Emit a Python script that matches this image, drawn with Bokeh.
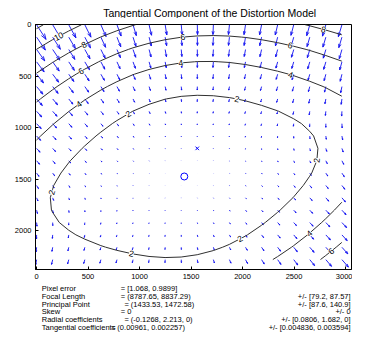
import numpy as np
import contourpy
from bokeh.plotting import figure
from bokeh.layouts import column
from bokeh.models import Range1d, FixedTicker
from bokeh.core.properties import value
from bokeh.embed import file_html
from bokeh.resources import INLINE

# ---- data ---------------------------------------------------------------
image_size = [3120, 2400]
pixel_error = [1.068, 0.9899]
focal_length = [8787.65, 8837.29]
focal_length_err = [79.2, 87.57]
principal_point = [1433.53, 1472.58]
principal_point_err = [87.6, 140.9]
skew = [0]
skew_err = [0]
radial_coeffs = [-0.1268, 2.213, 0]
radial_coeffs_err = [0.0806, 1.682, 0]
tangential_coeffs = [0.00961, 0.002257]
tangential_coeffs_err = [0.004836, 0.003594]

x_ticks = [0, 500, 1000, 1500, 2000, 2500, 3000]
y_ticks = [0, 500, 1000, 1500, 2000]
contour_levels = [2, 4, 6, 8, 10, 12]
grid_steps = 20

title_text = "Tangential Component of the Distortion Model"
row_names = ["Pixel error", "Focal Length", "Principal Point", "Skew",
             "Radial coefficients", "Tangential coefficients"]


def fmt(vals):
    return ", ".join(f"{v:.6g}" for v in vals)


row_values = [
    f"= [{fmt(pixel_error)}]",
    f"= ({fmt(focal_length)})",
    f"= ({fmt(principal_point)})",
    f"= {fmt(skew)}",
    f"= ({fmt(radial_coeffs)})",
    f"= ({fmt(tangential_coeffs)})",
]
row_errors = [
    "",
    f"+/- [{fmt(focal_length_err)}]",
    f"+/- [{fmt(principal_point_err)}]",
    f"+/- {fmt(skew_err)}",
    f"+/- [{fmt(radial_coeffs_err)}]",
    f"+/- [{fmt(tangential_coeffs_err)}]",
]

# ---- tangential distortion field (model with the parameters above) ------
nx, ny = image_size
fc = np.array(focal_length)
cc = np.array(principal_point)
p1, p2 = tangential_coeffs

gx = np.arange(0, nx - 1, nx / grid_steps)
gy = np.arange(0, ny - 1, ny / grid_steps)
MX, MY = np.meshgrid(gx, gy)
xn = (MX - cc[0]) / fc[0]
yn = (MY - cc[1]) / fc[1]
r2 = xn ** 2 + yn ** 2
DX = fc[0] * (2 * p1 * xn * yn + p2 * (r2 + 2 * xn ** 2))
DY = fc[1] * (p1 * (r2 + 2 * yn ** 2) + 2 * p2 * xn * yn)
DR = np.hypot(DX, DY)

# quiver autoscale (MATLAB style)
nn = np.sqrt(MX.size)
delx = (MX.max() - MX.min()) / nn
dely = (MY.max() - MY.min()) / nn
maxlen = np.sqrt((DX ** 2 + DY ** 2) / (delx ** 2 + dely ** 2)).max()
sc = 0.9 / maxlen
U = (DX * sc).ravel()
V = (DY * sc).ravel()
X0 = (MX + 1).ravel()
Y0 = (MY + 1).ravel()
TX = X0 + U
TY = Y0 + V
al = be = 0.33
H1X = TX - al * (U + be * V)
H1Y = TY - al * (V - be * U)
H2X = TX - al * (U - be * V)
H2Y = TY - al * (V + be * U)

# ---- layout (pixels) -----------------------------------------------------
W = 352
TOP_H = 18          # title strip
MAIN_H = 265        # plot strip
TXT_H = 332 - TOP_H - MAIN_H   # parameter strip
FL, FR, FT, FB = 35, 351, 24, 269   # frame edges on the page
ML, MR = FL, W - FR
MT, MB = FT - TOP_H, TOP_H + MAIN_H - FB
FW, FH = FR - FL, FB - FT
ppu = 0.103
xr0 = -10
xr1 = xr0 + FW / ppu
yr0 = -2
yr1 = yr0 + FH / ppu

# title strip
pt = figure(width=W, height=TOP_H, output_backend="svg", toolbar_location=None,
            x_range=Range1d(0, W), y_range=Range1d(TOP_H, 0),
            x_axis_type=None, y_axis_type=None, min_border=0)
pt.outline_line_color = None
pt.grid.visible = False
pt.text(x=[194], y=[12.5], text=[title_text], text_align="center",
        text_baseline="middle", text_font=value("Liberation Sans"),
        text_font_size="10.5px", text_color="black")

# main plot
p = figure(width=W, height=MAIN_H, output_backend="svg", toolbar_location=None,
           x_range=Range1d(xr0, xr1), y_range=Range1d(yr1, yr0),
           min_border_left=ML, min_border_right=MR, min_border_top=MT,
           min_border_bottom=MB)
p.grid.visible = False
p.outline_line_color = "black"
p.outline_line_alpha = 1

for ax, ticks in ((p.xaxis[0], x_ticks), (p.yaxis[0], y_ticks)):
    ax.ticker = FixedTicker(ticks=ticks)
    ax.major_tick_in = 3
    ax.major_tick_out = 0
    ax.minor_tick_line_color = None
    ax.axis_line_color = "black"
    ax.major_tick_line_color = "black"
    ax.major_label_text_font = "Liberation Sans"
    ax.major_label_text_font_size = "7.5px"
    ax.major_label_text_color = "black"
p.xaxis.major_label_standoff = 4
p.yaxis.major_label_standoff = 4

# quiver
ac = "#1010f0"
p.segment(x0=X0, y0=Y0, x1=TX, y1=TY, line_color=ac, line_width=0.9)
p.multi_line(xs=[[a, b, c] for a, b, c in zip(H1X, TX, H2X)],
             ys=[[a, b, c] for a, b, c in zip(H1Y, TY, H2Y)],
             line_color=ac, line_width=0.9)

# contours + inline labels
gen = contourpy.contour_generator(MX, MY, DR)
cxs, cys = [], []
lx, ly, lt, la = [], [], [], []
spacing = 115.0
for lev in contour_levels:
    for seg in gen.lines(lev):
        cxs.append(list(seg[:, 0]))
        cys.append(list(seg[:, 1]))
        d = np.hypot(np.diff(seg[:, 0]), np.diff(seg[:, 1])) * ppu
        s = np.concatenate([[0], np.cumsum(d)])
        L = s[-1]
        if L < 25:
            continue
        nlab = max(1, int(round(L / spacing)))
        for k in range(nlab):
            target = (k + 0.5) * L / nlab
            i = int(np.clip(np.searchsorted(s, target), 1, len(s) - 1))
            t = (target - s[i - 1]) / max(s[i] - s[i - 1], 1e-9)
            px = seg[i - 1, 0] + t * (seg[i, 0] - seg[i - 1, 0])
            py = seg[i - 1, 1] + t * (seg[i, 1] - seg[i - 1, 1])
            ang = np.arctan2(-(seg[i, 1] - seg[i - 1, 1]), seg[i, 0] - seg[i - 1, 0])
            if ang > np.pi / 2:
                ang -= np.pi
            if ang <= -np.pi / 2:
                ang += np.pi
            lx.append(px); ly.append(py); lt.append(f"{lev:g}"); la.append(ang)

p.multi_line(xs=cxs, ys=cys, line_color="#303030", line_width=1)
p.text(x=lx, y=ly, text=lt, angle=la, text_align="center",
       text_baseline="middle", text_font=value("Liberation Sans"),
       text_font_size="8.5px", text_color="black",
       background_fill_color="white")

# principal point and image centre
p.scatter(x=[cc[0] + 1], y=[cc[1] + 1], marker="circle", size=7,
          fill_color=None, line_color="#0000ff", line_width=1)
p.scatter(x=[(nx - 1) / 2 + 1], y=[(ny - 1) / 2 + 1], marker="x", size=5,
          line_color="#0000ff", line_width=1)

# parameter strip
pb = figure(width=W, height=TXT_H, output_backend="svg", toolbar_location=None,
            x_range=Range1d(0, W), y_range=Range1d(TXT_H, 0),
            x_axis_type=None, y_axis_type=None, min_border=0)
pb.outline_line_color = None
pb.grid.visible = False
row_y = [5 + 7.8 * i for i in range(len(row_names))]
eq_x = [95, 95, 99, 95, 99, 84]
fs = "7.5px"
pb.text(x=[7] * len(row_names), y=row_y, text=row_names, text_align="left",
        text_baseline="middle", text_font=value("Liberation Sans"),
        text_font_size=fs, text_color="black")
pb.text(x=eq_x, y=row_y, text=row_values, text_align="left",
        text_baseline="middle", text_font=value("Liberation Sans"),
        text_font_size=fs, text_color="black")
pb.text(x=[W - 1] * (len(row_names) - 1), y=row_y[1:], text=row_errors[1:],
        text_align="right", text_baseline="middle",
        text_font=value("Liberation Sans"), text_font_size=fs,
        text_color="black")

layout = column(pt, p, pb, spacing=0)
open("out.html", "w").write(file_html(layout, INLINE))
